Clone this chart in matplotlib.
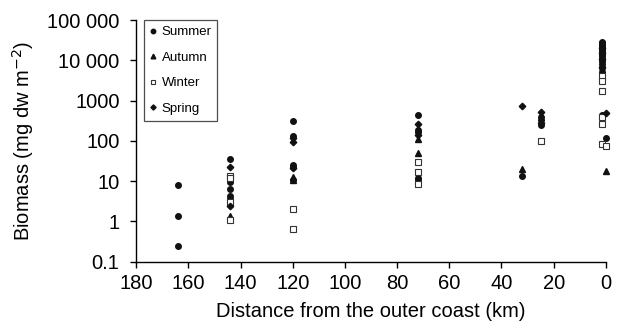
import matplotlib
matplotlib.use('Agg')
import matplotlib.pyplot as plt

plt.rcParams['font.family'] = ['Liberation Sans', 'DejaVu Sans']

# distance from the outer coast (km) and biomass (mg dw m-2) per season
summer_x = [164, 164, 164, 144, 144, 144, 144, 144, 120, 120, 120, 120, 120,
            72, 72, 72, 72, 72, 32, 25, 25, 25,
            1.5, 1.5, 1.5, 1.5, 1.5, 1.5, 1.5, 1.5, 1.5, 1.5, 1.5, 1.5, 1.5, 1.5, 1.5, 1.5, 0]
summer_y = [8.1, 1.33, 0.25, 36, 9.8, 6.3, 4.2, 3.6, 313, 134, 25, 23, 10.7,
            440, 187, 163, 11.9, 10.7, 13.8, 400, 330, 250,
            29000, 27000, 25000, 23000, 21000, 19000, 17000, 15500, 14000, 12500,
            11000, 9500, 8000, 6500, 5200, 440, 117]

autumn_x = [144, 120, 120, 72, 72, 32, 0]
autumn_y = [1.38, 13, 11, 110, 51, 20, 17.5]

winter_x = [144, 144, 144, 144, 120, 120, 72, 72, 72, 25,
            1.5, 1.5, 1.5, 1.5, 1.5, 1.5, 0]
winter_y = [13.5, 11.9, 3.1, 1.1, 2.0, 0.65, 30, 17, 8.5, 102,
            4000, 3000, 1740, 390, 260, 86, 76]

spring_x = [144, 144, 120, 120, 120, 72, 72, 32, 25, 25,
            1.5, 1.5, 1.5, 1.5, 0]
spring_y = [22, 2.4, 120, 96, 21, 265, 141, 750, 513, 280,
            20000, 15000, 11000, 7000, 490]

y_ticks = [0.1, 1, 10, 100, 1000, 10000, 100000]
y_tick_labels = ['0.1', '1', '10', '100', '1000', '10 000', '100 000']
x_ticks = [180, 160, 140, 120, 100, 80, 60, 40, 20, 0]

fig = plt.figure(figsize=(6.22, 3.30), dpi=100)
ax = fig.add_axes([0.219, 0.207, 0.755, 0.732])

ax.plot(summer_x, summer_y, 'o', color='#111111', markersize=4.0, label='Summer', clip_on=False)
ax.plot(autumn_x, autumn_y, '^', color='#111111', markersize=4.2, label='Autumn', clip_on=False)
ax.plot(winter_x, winter_y, 's', markerfacecolor='white', markeredgecolor='#333333',
        markeredgewidth=0.8, markersize=3.9, label='Winter', clip_on=False)
ax.plot(spring_x, spring_y, 'D', color='#111111', markersize=3.3, label='Spring', clip_on=False)

ax.set_yscale('log')
ax.set_ylim(0.1, 100000)
ax.set_xlim(180, 0)
ax.set_yticks(y_ticks)
ax.set_yticklabels(y_tick_labels)
ax.yaxis.set_minor_locator(matplotlib.ticker.NullLocator())
ax.set_xticks(x_ticks)

ax.spines['top'].set_visible(False)
ax.spines['right'].set_visible(False)
ax.spines['left'].set_linewidth(1.0)
ax.spines['bottom'].set_linewidth(1.0)
ax.tick_params(axis='both', direction='out', length=4.5, width=1.0, labelsize=14.5)
ax.tick_params(axis='y', pad=7.5)
ax.tick_params(axis='x', pad=4.5)

ax.set_xlabel('Distance from the outer coast (km)', fontsize=14.5, labelpad=6)
ax.set_ylabel('Biomass (mg dw m$^{-2}$)', fontsize=14.5, labelpad=8)

leg = ax.legend(loc='upper left', bbox_to_anchor=(0.016, 1.0), fontsize=9.5, frameon=True,
                fancybox=False, edgecolor='#222222', handlelength=0.5, handletextpad=0.4,
                borderpad=0.45, labelspacing=1.0, markerscale=0.8, borderaxespad=0)
leg.get_frame().set_linewidth(0.9)

fig.savefig('out.png', dpi=100)
